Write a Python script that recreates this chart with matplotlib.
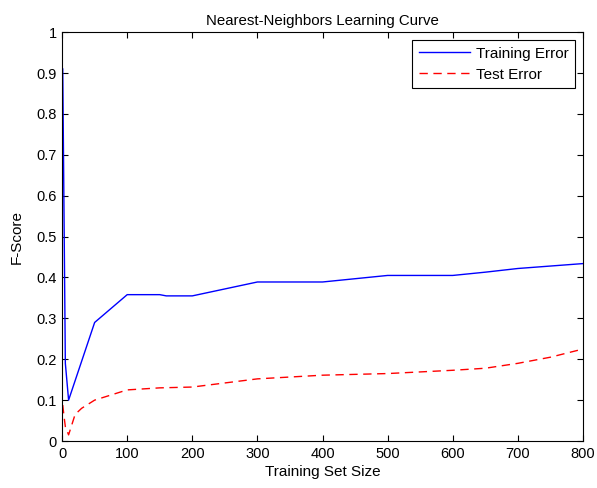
import matplotlib
matplotlib.use('Agg')
import matplotlib.pyplot as plt
import numpy as np

plt.rcParams['font.family'] = ['Liberation Sans', 'DejaVu Sans']
plt.rcParams['font.size'] = 10

# training set sizes and scores
train_x = [1, 2, 3, 4, 5, 10, 50, 100, 150, 160, 200, 300, 400, 500, 600, 650, 700, 750, 800]
train_y = [0.91, 0.73, 0.55, 0.37, 0.19, 0.10, 0.29, 0.358, 0.358, 0.355, 0.355, 0.389, 0.389,
           0.405, 0.405, 0.413, 0.422, 0.428, 0.434]

test_x = [1, 3, 5, 10, 20, 30, 50, 100, 150, 200, 300, 400, 500, 600, 650, 700, 750, 800]
test_y = [0.088, 0.06, 0.035, 0.015, 0.065, 0.08, 0.10, 0.125, 0.13, 0.132, 0.152, 0.161,
          0.165, 0.173, 0.178, 0.19, 0.205, 0.225]

fig = plt.figure(figsize=(5.97, 4.88), dpi=100)
ax = fig.add_axes([0.104, 0.0963, 0.8725, 0.8377])

ax.plot(train_x, train_y, color='b', lw=1, label='Training Error')
ax.plot(test_x, test_y, color='r', lw=1, ls='--', dashes=(6, 4), label='Test Error')

ax.set_xlim(0, 800)
ax.set_ylim(0, 1)
ax.set_xticks(np.arange(0, 801, 100))
ax.set_yticks(np.arange(0, 1.01, 0.1))
ax.set_yticklabels(['0', '0.1', '0.2', '0.3', '0.4', '0.5', '0.6', '0.7', '0.8', '0.9', '1'])
ax.tick_params(direction='in', top=True, right=True, length=4, labelsize=10.5, pad=4)

ax.set_title('Nearest-Neighbors Learning Curve', fontsize=10.8, pad=5)
ax.set_xlabel('Training Set Size', fontsize=11, labelpad=3)
ax.set_ylabel('F-Score', fontsize=11, labelpad=9)

leg = ax.legend(loc='upper right', fancybox=False, framealpha=1, edgecolor='k',
                fontsize=11, handlelength=3.3, handletextpad=0.4, borderpad=0.45,
                borderaxespad=0.5, labelspacing=0.45)
leg.get_frame().set_linewidth(0.8)

fig.savefig('out.png', dpi=100)
